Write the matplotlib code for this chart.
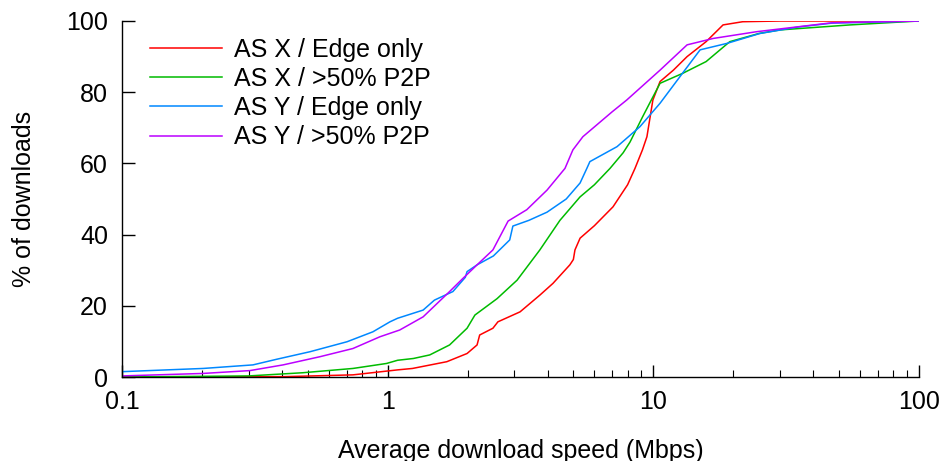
import matplotlib
matplotlib.use("Agg")
import matplotlib.pyplot as plt
from matplotlib.ticker import FixedLocator, LogLocator, NullFormatter

plt.rcParams['font.family'] = ['Liberation Sans', 'DejaVu Sans']

labels = ["AS X / Edge only", "AS X / >50% P2P", "AS Y / Edge only", "AS Y / >50% P2P"]
colors = ["#ff0000", "#00bb00", "#0088ff", "#bb00ff"]

red_x = [0.1, 0.41, 0.74, 1.09, 1.24, 1.67, 1.99, 2.17, 2.22, 2.49, 2.6, 3.15, 3.74, 4.19,
         4.85, 5.0, 5.07, 5.3, 6.0, 7.05, 8.0, 8.53, 9.1, 9.46, 9.96, 10.6, 11.9, 13.4, 15.8,
         18.3, 21.7, 30, 100]
red_y = [0, 0.1, 0.6, 2.0, 2.4, 4.3, 6.6, 9.0, 11.8, 13.7, 15.5, 18.3, 23, 26.3,
         31.5, 33, 35.7, 39, 42.5, 47.8, 54, 58.6, 63.8, 67.5, 77.8, 83, 86.2, 90, 94.2,
         98.9, 99.8, 100, 100]

green_x = [0.1, 0.3, 0.48, 0.74, 0.99, 1.09, 1.25, 1.44, 1.71, 1.99, 2.13, 2.58, 3.07, 3.74,
           4.45, 5.3, 6.0, 6.87, 7.7, 8.17, 9.1, 9.7, 10.6, 12.9, 15.8, 19.4, 25, 30, 55, 80, 100]
green_y = [0, 0.3, 1.2, 2.4, 3.8, 4.7, 5.2, 6.2, 9, 13.7, 17.4, 22, 27.2, 35.7,
           44, 50.6, 54, 58.6, 63, 66, 73, 77, 82.5, 85.3, 88.6, 94.2, 96.5, 97.5, 98.9, 99.6, 100]

blue_x = [0.1, 0.202, 0.311, 0.383, 0.51, 0.703, 0.88, 1.02, 1.09, 1.36, 1.5, 1.76, 1.96,
          1.99, 2.17, 2.5, 2.88, 2.96, 3.4, 3.98, 4.7, 5.3, 5.62, 5.77, 7.3, 8.9, 10.6, 12.9,
          15.0, 18.9, 25.2, 35, 47, 100]
blue_y = [1.5, 2.4, 3.4, 5.0, 7.1, 9.9, 12.7, 15.5, 16.5, 18.8, 21.6, 24, 28,
          29.6, 31.5, 34, 38.5, 42.4, 44, 46.3, 50, 54.5, 58.6, 60.5, 64.7, 70.3, 76.9, 85.4,
          91.9, 93.7, 96.5, 98.3, 99.4, 100]

purple_x = [0.1, 0.202, 0.303, 0.404, 0.556, 0.74, 0.935, 1.11, 1.36, 1.71, 1.92, 2.17,
            2.49, 2.84, 3.34, 3.98, 4.65, 4.98, 5.43, 7.0, 7.94, 10.6, 13.4, 16.8, 24.5, 47, 100]
purple_y = [0.3, 1.0, 1.8, 3.4, 5.7, 8.0, 11.3, 13.2, 16.9, 24, 27.7, 31.5,
            35.7, 43.8, 47, 52.5, 58.6, 63.8, 67.5, 74.5, 77.8, 86.2, 93.3, 95.1, 97, 99.5, 100]

xticks = [0.1, 1, 10, 100]
xticklabels = ["0.1", "1", "10", "100"]
yticks = [0, 20, 40, 60, 80, 100]

fig = plt.figure(figsize=(9.47, 4.61), dpi=100)
ax = fig.add_axes([122/947, 1-377/461, 797/947, 356/461])

series = [(red_x, red_y), (green_x, green_y), (blue_x, blue_y), (purple_x, purple_y)]
for (xs, ys), c, lab in zip(series, colors, labels):
    ax.plot(xs, ys, color=c, lw=1.1, label=lab)

ax.set_xscale('log')
ax.set_xlim(0.1, 100)
ax.set_ylim(0, 100)
ax.xaxis.set_major_locator(FixedLocator(xticks))
ax.set_xticklabels(xticklabels)
ax.xaxis.set_minor_locator(LogLocator(base=10, subs=range(2, 10)))
ax.xaxis.set_minor_formatter(NullFormatter())
ax.set_yticks(yticks)
for s in ['top', 'right']:
    ax.spines[s].set_visible(False)
for s in ['left', 'bottom']:
    ax.spines[s].set_linewidth(1.0)
ax.tick_params(axis='both', which='major', direction='in', length=9, width=1.0, labelsize=18, pad=9)
ax.tick_params(axis='y', pad=10)
ax.tick_params(axis='x', which='minor', direction='in', length=5, width=0.8)

ax.set_xlabel("Average download speed (Mbps)", fontsize=18, labelpad=18)
ax.set_ylabel("% of downloads", fontsize=18, labelpad=22)

ax.legend(loc='upper left', bbox_to_anchor=(0.035, 0.953), frameon=False, fontsize=18,
          handlelength=2.9, handletextpad=0.45, labelspacing=0.21, borderpad=0, borderaxespad=0)

fig.savefig("out.png", dpi=100)
